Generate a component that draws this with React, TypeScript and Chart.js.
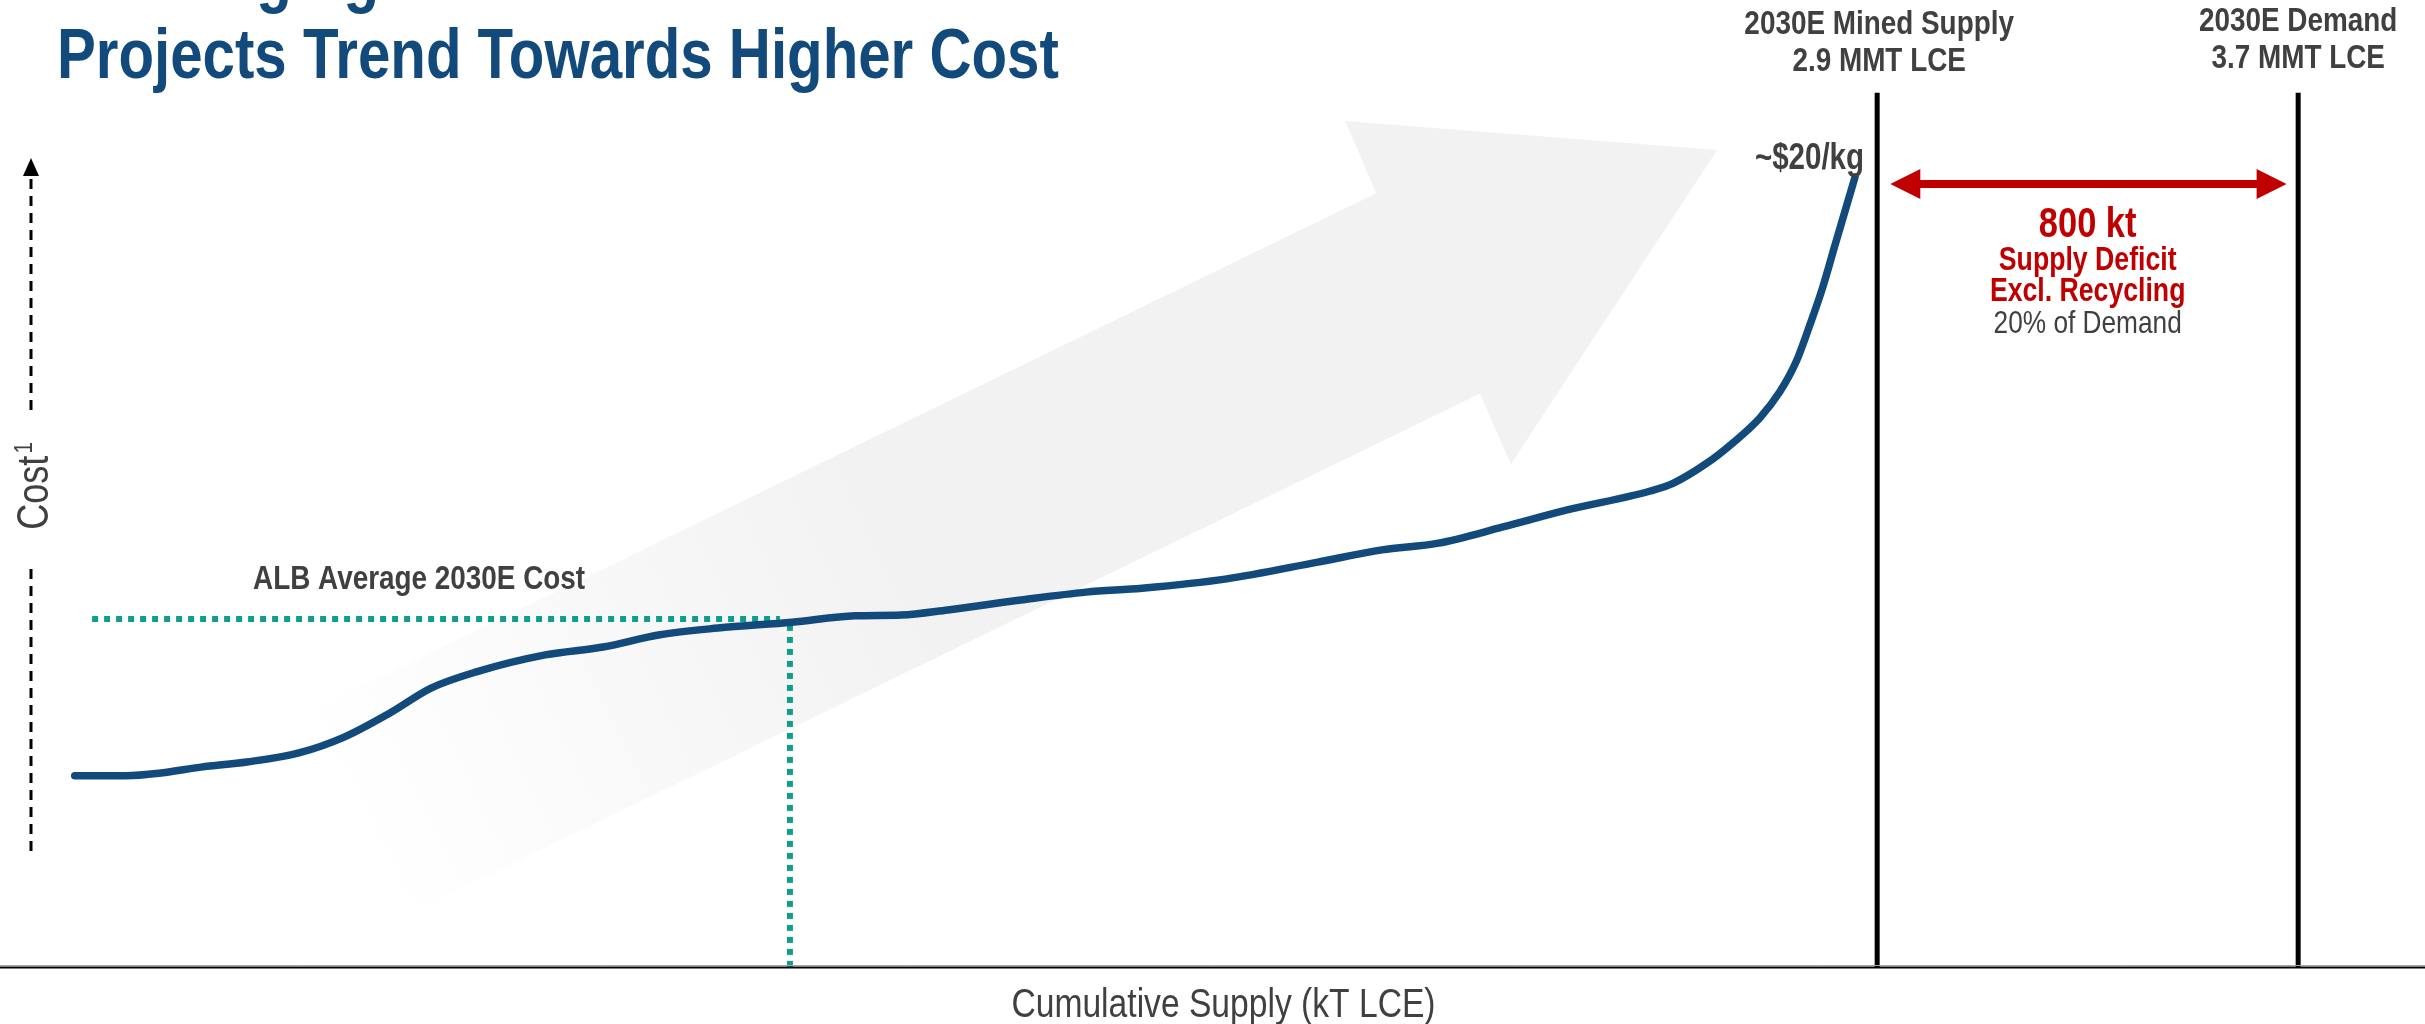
import React, { useEffect, useRef } from "react";
import { Chart, registerables } from "chart.js";

Chart.register(...registerables);

// ---------------- data ----------------
// Cumulative supply (kT LCE, schematic - not to scale) and cost ($/kg LCE)
const supplyKt = [
  -525, -428, -361, -285, -198, -99, -13, 74, 152, 238, 369, 479, 587, 697, 838,
  958, 1045, 1134, 1273, 1397, 1503, 1661, 1837, 1959, 2066, 2189, 2311, 2469,
  2513, 2577, 2626, 2677, 2715, 2746, 2772, 2795, 2820, 2858,
];
const costPerKg = [
  4.84, 4.84, 4.91, 5.06, 5.19, 5.42, 5.82, 6.43, 7.06, 7.47, 7.9, 8.1, 8.41,
  8.58, 8.73, 8.89, 8.91, 9.04, 9.29, 9.49, 9.59, 9.82, 10.25, 10.56, 10.73,
  11.14, 11.57, 12.05, 12.25, 12.76, 13.27, 13.9, 14.56, 15.32, 16.25, 17.14, 18.28, 20.0,
];

const MINED_SUPPLY_KT = 2900; // 2030E mined supply 2.9 MMT LCE
const DEMAND_KT = 3700; // 2030E demand 3.7 MMT LCE
const MARKER_TOP_COST = 22.13;
const DEFICIT_ARROW_KT = [2925, 3678];
const DEFICIT_ARROW_COST = 19.82;

const ALB_AVG_COST = 8.81;
const ALB_SUPPLY_KT = 834;
const ALB_LINE_START_KT = -492;
const ALB_LINE_END_KT = 815;

// big background trend arrow (kT, $/kg)
const trendArrowKt = [-97, 1948, 1889, 2596, 2204, 2145, 91];
const trendArrowCost = [6.35, 19.59, 21.42, 20.68, 12.73, 14.51, 1.22];

const X_MIN = -667;
const X_MAX = 3941;
const Y_MIN = 0;
const Y_MAX = 24.48;

// ---------------- text ----------------
const TITLE_LINES = ["Challenging Grades and Locations of New", "Projects Trend Towards Higher Cost"];
const SUPPLY_LABEL = ["2030E Mined Supply", "2.9 MMT LCE"];
const DEMAND_LABEL = ["2030E Demand", "3.7 MMT LCE"];
const DEFICIT_VALUE = "800 kt";
const DEFICIT_LINES = ["Supply Deficit", "Excl. Recycling"];
const DEFICIT_NOTE = "20% of Demand";
const PEAK_LABEL = "~$20/kg";
const ALB_LABEL = "ALB Average 2030E Cost";
const X_TITLE = "Cumulative Supply (kT LCE)";
const Y_TITLE = "Cost";
const Y_TITLE_SUP = "1";

// ---------------- style ----------------
const BLUE = "#134A7C";
const TEAL = "#0E9E8B";
const RED = "#C00000";
const GREY_TEXT = "#404040";
const ARROW_GREY = "242,242,242";

let NARROW_OK = false;
function detectNarrow(): boolean {
  const c = document.createElement("canvas").getContext("2d");
  if (!c) return false;
  const s = "Supply Deficit Excl. Recycling 2030E";
  c.font = '40px "Liberation Sans Narrow", monospace';
  const a = c.measureText(s).width;
  c.font = "40px monospace";
  const b = c.measureText(s).width;
  return Math.abs(a - b) > 0.5;
}

function setFont(ctx: CanvasRenderingContext2D, size: number, bold: boolean, narrow: boolean): number {
  const w = bold ? "bold " : "";
  if (narrow && NARROW_OK) {
    ctx.font = `${w}${size}px "Liberation Sans Narrow"`;
    return 1;
  }
  ctx.font = `${w}${size}px "Liberation Sans", Arial, sans-serif`;
  return narrow ? 0.82 : 1;
}

function drawText(
  ctx: CanvasRenderingContext2D,
  s: string,
  x: number,
  y: number,
  size: number,
  bold: boolean,
  color: string,
  align: CanvasTextAlign = "left",
  narrow = true
) {
  ctx.save();
  const sx = setFont(ctx, size, bold, narrow);
  ctx.fillStyle = color;
  ctx.textAlign = align;
  ctx.textBaseline = "alphabetic";
  ctx.translate(x, y);
  ctx.scale(sx, 1);
  ctx.fillText(s, 0, 0);
  ctx.restore();
}

function measure(ctx: CanvasRenderingContext2D, s: string, size: number, bold: boolean, narrow = true) {
  ctx.save();
  const sx = setFont(ctx, size, bold, narrow);
  const w = ctx.measureText(s).width * sx;
  ctx.restore();
  return w;
}

const decorPlugin = {
  id: "decor",
  beforeDatasetsDraw(chart: any) {
    const ctx: CanvasRenderingContext2D = chart.ctx;
    const xs = chart.scales.x;
    const ys = chart.scales.y;
    const pts = trendArrowKt.map((k, i) => [xs.getPixelForValue(k), ys.getPixelForValue(trendArrowCost[i])]);
    const tailMid = [(pts[0][0] + pts[6][0]) / 2, (pts[0][1] + pts[6][1]) / 2];
    const headMid = [(pts[2][0] + pts[4][0]) / 2, (pts[2][1] + pts[4][1]) / 2];
    const g = ctx.createLinearGradient(tailMid[0], tailMid[1], headMid[0], headMid[1]);
    g.addColorStop(0, `rgba(${ARROW_GREY},0)`);
    g.addColorStop(0.5, `rgba(${ARROW_GREY},1)`);
    g.addColorStop(1, `rgba(${ARROW_GREY},1)`);
    ctx.save();
    ctx.fillStyle = g;
    ctx.beginPath();
    pts.forEach((p, i) => (i === 0 ? ctx.moveTo(p[0], p[1]) : ctx.lineTo(p[0], p[1])));
    ctx.closePath();
    ctx.fill();
    ctx.restore();
  },
  afterDatasetsDraw(chart: any) {
    const ctx: CanvasRenderingContext2D = chart.ctx;
    const xs = chart.scales.x;
    const ys = chart.scales.y;
    const area = chart.chartArea;
    const W = chart.width;

    ctx.save();
    // x axis line
    ctx.strokeStyle = "#A6A6A6";
    ctx.lineWidth = 1;
    ctx.beginPath();
    ctx.moveTo(0, area.bottom - 1.5);
    ctx.lineTo(W, area.bottom - 1.5);
    ctx.stroke();
    ctx.strokeStyle = "#000";
    ctx.lineWidth = 2;
    ctx.beginPath();
    ctx.moveTo(0, area.bottom + 0.5);
    ctx.lineTo(W, area.bottom + 0.5);
    ctx.stroke();

    // dashed cost axis arrow
    const ax = area.left + 31;
    ctx.strokeStyle = "#000";
    ctx.lineWidth = 3;
    ctx.setLineDash([10, 7]);
    ctx.beginPath();
    ctx.moveTo(ax, 851);
    ctx.lineTo(ax, 565);
    ctx.moveTo(ax, 410);
    ctx.lineTo(ax, 174);
    ctx.stroke();
    ctx.setLineDash([]);
    ctx.fillStyle = "#000";
    ctx.beginPath();
    ctx.moveTo(ax, 158);
    ctx.lineTo(ax - 8, 176);
    ctx.lineTo(ax + 8, 176);
    ctx.closePath();
    ctx.fill();

    // deficit double arrow
    const ay = ys.getPixelForValue(DEFICIT_ARROW_COST);
    const x1 = xs.getPixelForValue(DEFICIT_ARROW_KT[0]);
    const x2 = xs.getPixelForValue(DEFICIT_ARROW_KT[1]);
    ctx.strokeStyle = RED;
    ctx.fillStyle = RED;
    ctx.lineWidth = 8;
    ctx.beginPath();
    ctx.moveTo(x1 + 24, ay);
    ctx.lineTo(x2 - 24, ay);
    ctx.stroke();
    ctx.beginPath();
    ctx.moveTo(x1, ay);
    ctx.lineTo(x1 + 30, ay - 15);
    ctx.lineTo(x1 + 30, ay + 15);
    ctx.closePath();
    ctx.fill();
    ctx.beginPath();
    ctx.moveTo(x2, ay);
    ctx.lineTo(x2 - 30, ay - 15);
    ctx.lineTo(x2 - 30, ay + 15);
    ctx.closePath();
    ctx.fill();
    ctx.restore();

    // titles
    drawText(ctx, TITLE_LINES[0], 46, -1, 71, true, BLUE);
    drawText(ctx, TITLE_LINES[1], 57, 78, 71, true, BLUE);

    // marker labels
    const sx = xs.getPixelForValue(MINED_SUPPLY_KT);
    const dx = xs.getPixelForValue(DEMAND_KT);
    drawText(ctx, SUPPLY_LABEL[0], sx + 2, 34, 34, true, GREY_TEXT, "center");
    drawText(ctx, SUPPLY_LABEL[1], sx + 2, 71, 34, true, GREY_TEXT, "center");
    drawText(ctx, DEMAND_LABEL[0], dx, 31, 34, true, GREY_TEXT, "center");
    drawText(ctx, DEMAND_LABEL[1], dx, 68, 34, true, GREY_TEXT, "center");

    const mid = (sx + dx) / 2;
    drawText(ctx, DEFICIT_VALUE, mid, 237, 42, true, RED, "center");
    drawText(ctx, DEFICIT_LINES[0], mid, 270, 32.5, true, RED, "center");
    drawText(ctx, DEFICIT_LINES[1], mid, 301, 32.5, true, RED, "center");
    drawText(ctx, DEFICIT_NOTE, mid, 333, 32, false, GREY_TEXT, "center");

    // peak cost label
    const px = xs.getPixelForValue(supplyKt[supplyKt.length - 1]);
    drawText(ctx, PEAK_LABEL, px + 9, 169, 36, true, GREY_TEXT, "right");

    // ALB label
    drawText(ctx, ALB_LABEL, 253, 589, 34, true, GREY_TEXT);

    // x title
    drawText(ctx, X_TITLE, (area.left + area.right) / 2 + 11, 1017, 41, false, GREY_TEXT, "center");

    // y title (rotated)
    const cw = measure(ctx, Y_TITLE, 44, false);
    const sw = measure(ctx, Y_TITLE_SUP, 25, false);
    const tw = cw + 2 + sw;
    ctx.save();
    ctx.translate(area.left + 32, 486);
    ctx.rotate(-Math.PI / 2);
    drawText(ctx, Y_TITLE, -tw / 2, 16, 44, false, GREY_TEXT);
    drawText(ctx, Y_TITLE_SUP, -tw / 2 + cw + 2, 0, 25, false, GREY_TEXT);
    ctx.restore();
  },
};

export default function App() {
  const ref = useRef<HTMLCanvasElement | null>(null);
  useEffect(() => {
    if (!ref.current) return;
    NARROW_OK = detectNarrow();
    const line = (data: { x: number; y: number }[], color: string, width: number, dash: number[] = []) => ({
      data,
      borderColor: color,
      borderWidth: width,
      borderDash: dash,
      pointRadius: 0,
      tension: 0,
      fill: false,
      borderCapStyle: "butt" as const,
    });
    const chart = new Chart(ref.current, {
      type: "line",
      data: {
        datasets: [
          {
            data: supplyKt.map((x, i) => ({ x, y: costPerKg[i] })),
            borderColor: BLUE,
            borderWidth: 7.5,
            pointRadius: 0,
            cubicInterpolationMode: "monotone",
            borderCapStyle: "round",
            borderJoinStyle: "round",
            fill: false,
          } as any,
          line(
            [
              { x: ALB_LINE_START_KT, y: ALB_AVG_COST },
              { x: ALB_LINE_END_KT, y: ALB_AVG_COST },
            ],
            TEAL,
            6,
            [6, 6]
          ),
          line(
            [
              { x: ALB_SUPPLY_KT, y: ALB_AVG_COST - 0.15 },
              { x: ALB_SUPPLY_KT, y: Y_MIN },
            ],
            TEAL,
            6,
            [6, 6]
          ),
          line(
            [
              { x: MINED_SUPPLY_KT, y: Y_MIN },
              { x: MINED_SUPPLY_KT, y: MARKER_TOP_COST },
            ],
            "#000",
            5
          ),
          line(
            [
              { x: DEMAND_KT, y: Y_MIN },
              { x: DEMAND_KT, y: MARKER_TOP_COST },
            ],
            "#000",
            5
          ),
        ],
      },
      options: {
        animation: false,
        responsive: false,
        maintainAspectRatio: false,
        devicePixelRatio: 1,
        events: [],
        layout: { padding: { left: 0, right: 0, top: 0, bottom: 57 } },
        plugins: { legend: { display: false }, tooltip: { enabled: false }, title: { display: false } },
        scales: {
          x: { type: "linear", display: false, min: X_MIN, max: X_MAX },
          y: { type: "linear", display: false, min: Y_MIN, max: Y_MAX },
        },
      },
      plugins: [decorPlugin],
    });
    return () => chart.destroy();
  }, []);
  return (
    <div style={{ position: "absolute", left: 0, top: 0, width: 2425, height: 1024, background: "#fff" }}>
      <canvas ref={ref} width={2425} height={1024} style={{ display: "block", width: 2425, height: 1024 }} />
    </div>
  );
}
